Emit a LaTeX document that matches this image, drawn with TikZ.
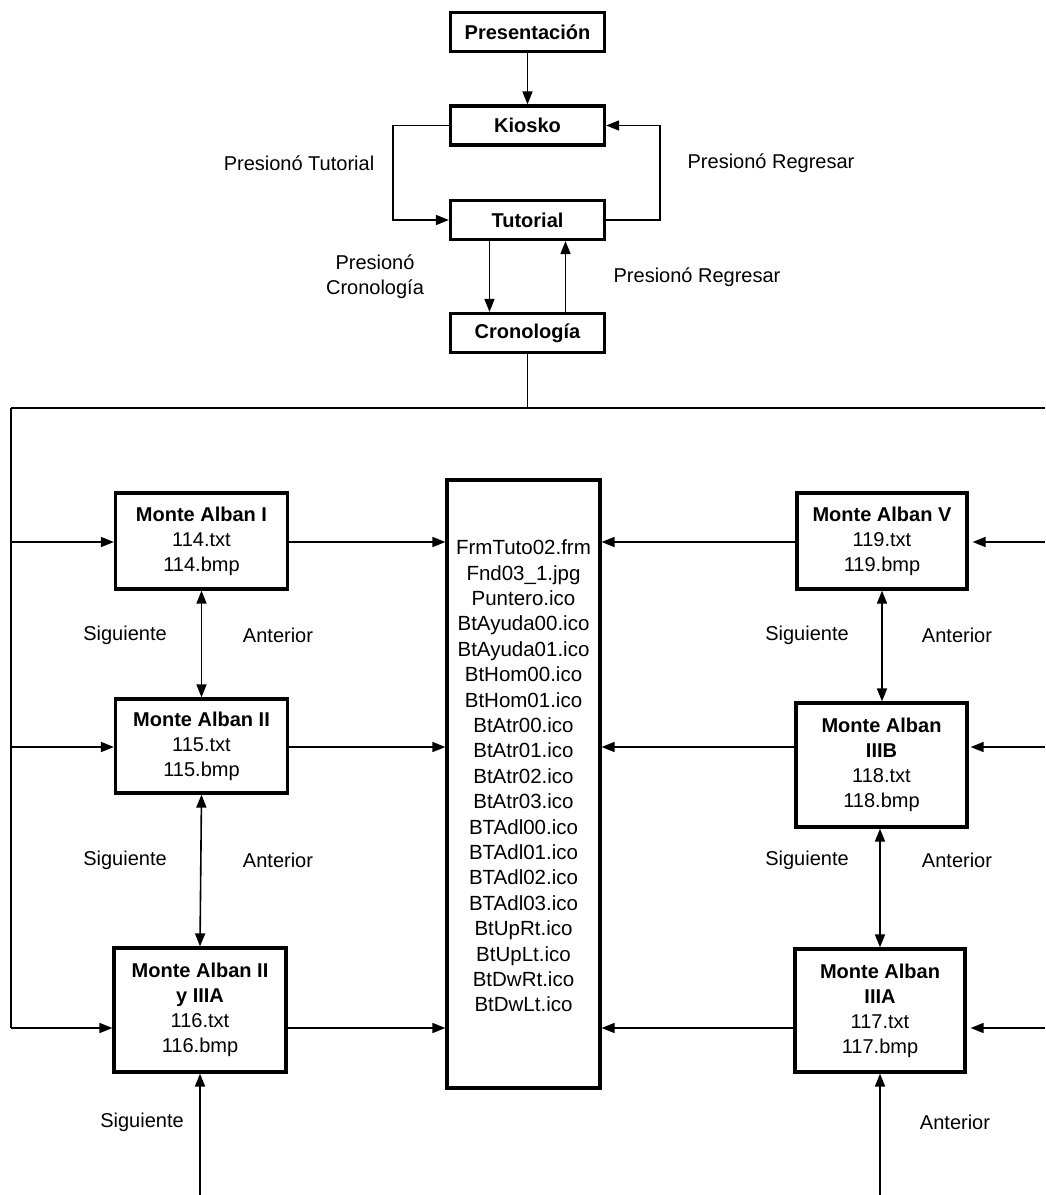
\documentclass[tikz,border=0pt]{standalone}
\usepackage{fontspec}
\setmainfont{Liberation Sans}
\usetikzlibrary{arrows.meta}
\begin{document}
\begin{tikzpicture}[x=1pt,y=-1pt,
  every node/.style={font=\fontsize{20}{25}\selectfont, inner sep=0pt, align=center},
  topbox/.style={draw, line width=3.2pt, minimum width=154pt, minimum height=39pt, font=\fontsize{20}{25}\selectfont\bfseries},
  mabox/.style={draw, line width=3.2pt, minimum width=172pt},
  conn/.style={line width=1.6pt},
  arr/.style={conn, -{Triangle[length=13pt,width=10pt]}},
  darr/.style={conn, {Triangle[length=13pt,width=10pt]}-{Triangle[length=13pt,width=10pt]}},
  lbl/.style={font=\fontsize{20}{25}\selectfont}]
\useasboundingbox (0,0) rectangle (1045,1195);

% top chain
\node[topbox] (pres) at (527.5,32) {Presentación};
\node[topbox] (kiosko) at (527.5,125.5) {Kiosko};
\node[topbox] (tut) at (527.5,220) {Tutorial};
\node[topbox] (crono) at (527.5,333) {Cronología};

\draw[arr] (pres.south) -- (kiosko.north);
\draw[arr] (kiosko.west) -- ++(-56,0) |- (tut.west);
\draw[arr] (tut.east) -- ++(54,0) |- (kiosko.east);
\draw[arr] ([xshift=-38pt]tut.south) -- ([xshift=-38pt]crono.north);
\draw[arr] ([xshift=38pt]crono.north) -- ([xshift=38pt]tut.south);

\node[lbl] (lt) at (299,163) {Presionó Tutorial};
\node[lbl] (lr) at (771,163) {Presionó Regresar};
\node[lbl] (lc) at (375,277) {Presionó\\Cronología};
\node[lbl] (lr2) at (697,277) {Presionó Regresar};

% bus
\coordinate (H) at (527.5,408);
\coordinate (L0) at (11,408);
\coordinate (R0) at (1045,408);
\coordinate (r1) at (0,542);
\coordinate (r2) at (0,747);
\coordinate (r3) at (0,1028);
\draw[conn] (crono.south) -- (H);
\draw[conn] (L0) -- (R0);
\draw[conn] (L0) -- (L0 |- r3);

% central box
\node[draw, line width=3.2pt, minimum width=153pt, minimum height=608pt] (cbox) at (523.5,784) {};
\node[font=\fontsize{20.5}{25.4}\selectfont] (list) at (523.5,776) {FrmTuto02.frm\\Fnd03\_1.jpg\\Puntero.ico\\BtAyuda00.ico\\BtAyuda01.ico\\BtHom00.ico\\BtHom01.ico\\BtAtr00.ico\\BtAtr01.ico\\BtAtr02.ico\\BtAtr03.ico\\BTAdl00.ico\\BTAdl01.ico\\BTAdl02.ico\\BTAdl03.ico\\BtUpRt.ico\\BtUpLt.ico\\BtDwRt.ico\\BtDwLt.ico};

% left column
\node[mabox, minimum height=96pt] (ma1) at (201.5,541) {\textbf{Monte Alban I}\\114.txt\\114.bmp};
\node[mabox, minimum height=94pt] (ma2) at (201.5,746) {\textbf{Monte Alban II}\\115.txt\\115.bmp};
\node[mabox, minimum height=124pt] (ma3) at (200,1010) {\textbf{Monte Alban II}\\\textbf{y IIIA}\\116.txt\\116.bmp};

% right column
\node[mabox, minimum width=170pt, minimum height=96pt] (ma5) at (882,541) {\textbf{Monte Alban V}\\119.txt\\119.bmp};
\node[mabox, minimum width=171pt, minimum height=124pt] (ma4) at (881.5,765) {\textbf{Monte Alban}\\\textbf{IIIB}\\118.txt\\118.bmp};
\node[mabox, minimum width=170pt, minimum height=123pt] (ma6) at (880,1010.5) {\textbf{Monte Alban}\\\textbf{IIIA}\\117.txt\\117.bmp};

% left arrows
\draw[arr] (L0 |- r1) -- (ma1.west |- r1);
\draw[arr] (L0 |- r2) -- (ma2.west |- r2);
\draw[arr] (L0 |- r3) -- (ma3.west |- r3);
\draw[arr] (ma1.east |- r1) -- (cbox.west |- r1);
\draw[arr] (ma2.east |- r2) -- (cbox.west |- r2);
\draw[arr] (ma3.east |- r3) -- (cbox.west |- r3);

% right arrows
\draw[arr, shorten >=4pt] (R0 |- r1) -- (ma5.east |- r1);
\draw[arr, shorten >=2pt] (R0 |- r2) -- (ma4.east |- r2);
\draw[arr, shorten >=4pt] (R0 |- r3) -- (ma6.east |- r3);
\draw[arr] (ma5.west |- r1) -- (cbox.east |- r1);
\draw[arr] (ma4.west |- r2) -- (cbox.east |- r2);
\draw[arr] (ma6.west |- r3) -- (cbox.east |- r3);

% vertical links
\draw[darr] (ma1.south) -- (ma2.north);
\draw[darr] (ma2.south) -- (ma3.north);
\draw[darr] (ma5.south) -- (ma5.south |- ma4.north);
\draw[darr] (ma6.north |- ma4.south) -- (ma6.north);

\coordinate (B1) at (200,1195);
\coordinate (B2) at (880,1195);
\draw[arr] (B1) -- (ma3.south);
\draw[arr] (B2) -- (ma6.south);

% labels
\node[lbl] (s1) at (125,635) {Siguiente};
\node[lbl] (a1) at (278,635) {Anterior};
\node[lbl] (s2) at (125,860) {Siguiente};
\node[lbl] (a2) at (278,860) {Anterior};
\node[lbl] (s3) at (807,635) {Siguiente};
\node[lbl] (a3) at (957,635) {Anterior};
\node[lbl] (s4) at (807,860) {Siguiente};
\node[lbl] (a4) at (957,860) {Anterior};
\node[lbl] (s5) at (142,1122) {Siguiente};
\node[lbl] (a5) at (955,1122) {Anterior};
\end{tikzpicture}
\end{document}
